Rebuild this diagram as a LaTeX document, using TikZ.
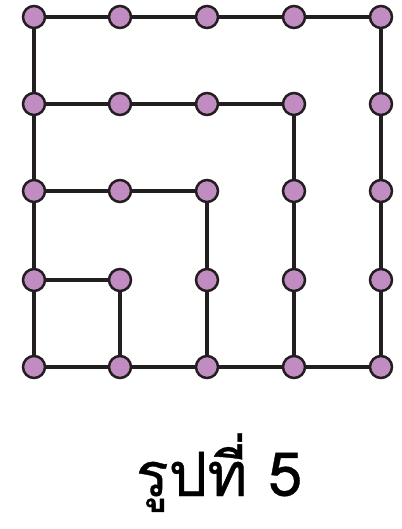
\documentclass[tikz,border=0pt]{standalone}
\usepackage{fontspec}
\newfontfamily\thaifont[Script=Thai,FakeBold=0.6]{Loma}
\definecolor{dotfill}{HTML}{C18CC1}
\definecolor{ink}{HTML}{231F20}
\begin{document}
\begin{tikzpicture}[x=1pt,y=-1pt,
  dot/.style={circle,fill=dotfill,draw=ink,line width=2.5pt,minimum size=22pt,inner sep=0pt},
  edge/.style={draw=ink,line width=3.2pt}]
\useasboundingbox (0,0) rectangle (401,529);
\foreach \i/\x in {1/34,2/120,3/207,4/294,5/381}{
  \foreach \j/\y in {1/17,2/104,3/191,4/280,5/367}{
    \coordinate (p\i\j) at (\x,\y);
  }
}
\draw[edge] (p11) -- (p51) -- (p55) -- (p15) -- cycle;
\draw[edge] (p12) -- (p42) -- (p45);
\draw[edge] (p13) -- (p33) -- (p35);
\draw[edge] (p14) -- (p24) -- (p25);
\foreach \i in {1,...,5}{
  \foreach \j in {1,...,5}{
    \node[dot] (n\i\j) at (p\i\j) {};
  }
}
\node[anchor=base,font=\thaifont\fontsize{61}{66}\selectfont,inner sep=0pt] (cap) at (219,496) {รูปที่ 5};
\end{tikzpicture}
\end{document}
